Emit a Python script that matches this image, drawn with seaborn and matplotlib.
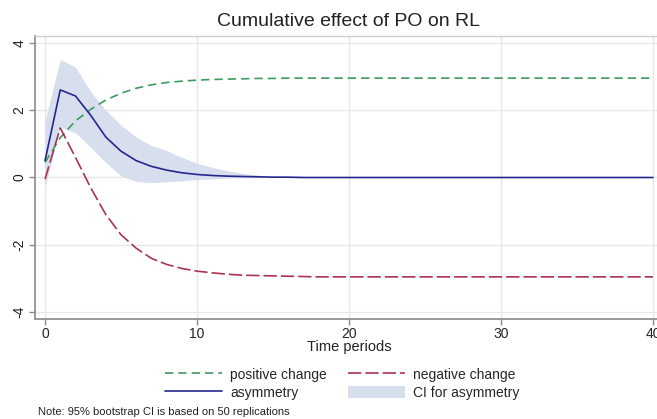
import numpy as np
import pandas as pd
import seaborn as sn
import matplotlib.pyplot as plt

# values
periods = list(range(41))

positive = [0.45, 1.18, 1.68, 2.02, 2.30, 2.50, 2.65, 2.75, 2.82, 2.86,
            2.89, 2.91, 2.92, 2.93, 2.94, 2.94, 2.95, 2.95, 2.95, 2.95,
            2.95, 2.95, 2.95, 2.95, 2.95, 2.95, 2.95, 2.95, 2.95, 2.95,
            2.95, 2.95, 2.95, 2.95, 2.95, 2.95, 2.95, 2.95, 2.95, 2.95, 2.95]

negative = [-0.05, 1.47, 0.60, -0.30, -1.10, -1.70, -2.10, -2.40, -2.58, -2.70,
            -2.78, -2.83, -2.87, -2.90, -2.91, -2.92, -2.93, -2.94, -2.95, -2.95,
            -2.95, -2.95, -2.95, -2.95, -2.95, -2.95, -2.95, -2.95, -2.95, -2.95,
            -2.95, -2.95, -2.95, -2.95, -2.95, -2.95, -2.95, -2.95, -2.95, -2.95, -2.95]

asymmetry = [0.50, 2.60, 2.42, 1.85, 1.20, 0.78, 0.50, 0.33, 0.22, 0.14,
             0.09, 0.06, 0.04, 0.03, 0.02, 0.01, 0.01, 0.0, 0.0, 0.0,
             0.0, 0.0, 0.0, 0.0, 0.0, 0.0, 0.0, 0.0, 0.0, 0.0,
             0.0, 0.0, 0.0, 0.0, 0.0, 0.0, 0.0, 0.0, 0.0, 0.0, 0.0]

ci_upper = [1.70, 3.50, 3.28, 2.55, 2.00, 1.55, 1.20, 0.95, 0.80, 0.60,
            0.42, 0.30, 0.20, 0.12, 0.07, 0.04, 0.02, 0.01, 0.0, 0.0,
            0.0, 0.0, 0.0, 0.0, 0.0, 0.0, 0.0, 0.0, 0.0, 0.0,
            0.0, 0.0, 0.0, 0.0, 0.0, 0.0, 0.0, 0.0, 0.0, 0.0, 0.0]

ci_lower = [-0.30, 1.50, 1.33, 0.90, 0.44, 0.05, -0.12, -0.15, -0.13, -0.10,
            -0.06, -0.04, -0.02, -0.01, 0.0, 0.0, 0.0, 0.0, 0.0, 0.0,
            0.0, 0.0, 0.0, 0.0, 0.0, 0.0, 0.0, 0.0, 0.0, 0.0,
            0.0, 0.0, 0.0, 0.0, 0.0, 0.0, 0.0, 0.0, 0.0, 0.0, 0.0]

xticks = [0, 10, 20, 30, 40]
yticks = [-4, -2, 0, 2, 4]

data = pd.DataFrame({'period': periods, 'positive': positive, 'negative': negative,
                     'asymmetry': asymmetry, 'upper': ci_upper, 'lower': ci_lower})

sn.set_style('white')
plt.rcParams['font.family'] = ['Liberation Sans', 'DejaVu Sans']
plt.rcParams['axes.unicode_minus'] = False

fig = plt.figure(figsize=(6.57, 4.19), dpi=100)
ax = fig.add_axes([35/657, 100/419, 628/657, 283/419])

band = ax.fill_between(data['period'], data['lower'], data['upper'],
                       color='#d7dfee', linewidth=0, label='CI for asymmetry', zorder=1)
sn.lineplot(data=data, x='period', y='positive', ax=ax, color='#3f9a60', lw=1.2,
            linestyle=(0, (5.0, 3.0)), label='positive change', zorder=3)
sn.lineplot(data=data, x='period', y='negative', ax=ax, color='#a8344f', lw=1.2,
            linestyle=(0, (8.0, 2.4)), label='negative change', zorder=3)
sn.lineplot(data=data, x='period', y='asymmetry', ax=ax, color='#26268f', lw=1.2,
            label='asymmetry', zorder=4)

ax.set_xlim(-0.66, 40.66)
ax.set_ylim(-4.2, 4.2)
ax.set_xticks(xticks)
ax.set_yticks(yticks)
ax.grid(True, color='#e6e6e6', lw=0.9, zorder=0)
ax.set_axisbelow(True)

for side in ['left', 'bottom']:
    ax.spines[side].set_color('#8a8a8a')
    ax.spines[side].set_linewidth(1.2)
for side in ['top', 'right']:
    ax.spines[side].set_color('#d0d0d0')
    ax.spines[side].set_linewidth(1.0)

ax.tick_params(axis='both', direction='out', length=4, width=1, color='#8a8a8a',
               labelsize=10, labelcolor='#222222', pad=2, bottom=True, left=True)
plt.setp(ax.get_yticklabels(), rotation=90, va='center')

ax.set_title('Cumulative effect of PO on RL', fontsize=14, color='#222222', pad=7)
ax.set_xlabel('Time periods', fontsize=10.5, color='#222222', labelpad=-1)
ax.set_ylabel('')

# stata fills the legend row by row, matplotlib column by column
handles, labels = ax.get_legend_handles_labels()
order = ['positive change', 'asymmetry', 'negative change', 'CI for asymmetry']
hmap = dict(zip(labels, handles))
ax.legend([hmap[l] for l in order], order, loc='upper center',
          bbox_to_anchor=(342/657, 1 - 362/419), bbox_transform=fig.transFigure,
          ncol=2, frameon=False, fontsize=10, handlelength=4.1, handleheight=1.0,
          handletextpad=0.6, columnspacing=1.5, labelspacing=0.3, borderaxespad=0)

fig.text(38/657, 1 - 415/419, 'Note: 95% bootstrap CI is based on 50 replications',
         fontsize=8, color='#222222', va='baseline')

plt.savefig('out.png', dpi=100)
